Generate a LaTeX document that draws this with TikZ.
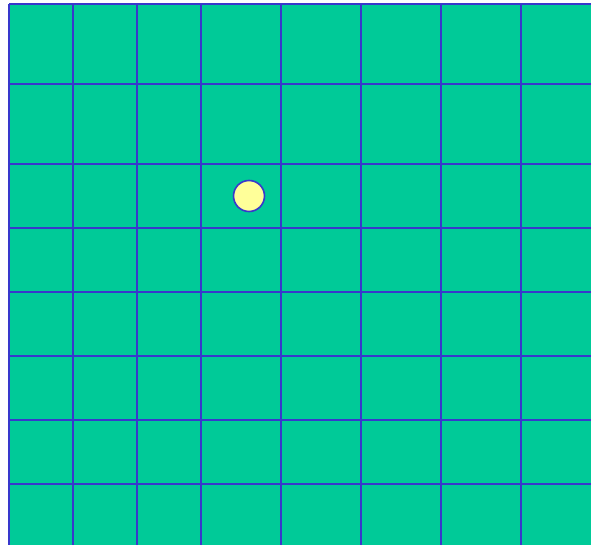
\documentclass[tikz,border=0pt]{standalone}
\usepackage{xcolor}
\definecolor{boardgreen}{HTML}{00CA98}
\definecolor{gridblue}{HTML}{3838CC}
\definecolor{tokenyellow}{HTML}{FFFF99}
\begin{document}
\begin{tikzpicture}[
 x=1pt,y=-1pt,
 gridline/.style={draw=gridblue,line width=2pt},
 token/.style={circle,draw=gridblue,line width=1.6pt,fill=tokenyellow,
   minimum size=31pt,inner sep=0pt}]
 \useasboundingbox (0,0) rectangle (591,545);
 \fill[boardgreen] (9,4) rectangle (591,545);
 % columns
 \foreach \gx in {9,73,137,201,281,361,441,521}
   \draw[gridline] (\gx,4) -- (\gx,545);
 % rows
 \foreach \gy in {4,84,164,228,292,356,420,484}
   \draw[gridline] (9,\gy) -- (591,\gy);
 \node[token] (piece) at (249,196) {};
\end{tikzpicture}
\end{document}
